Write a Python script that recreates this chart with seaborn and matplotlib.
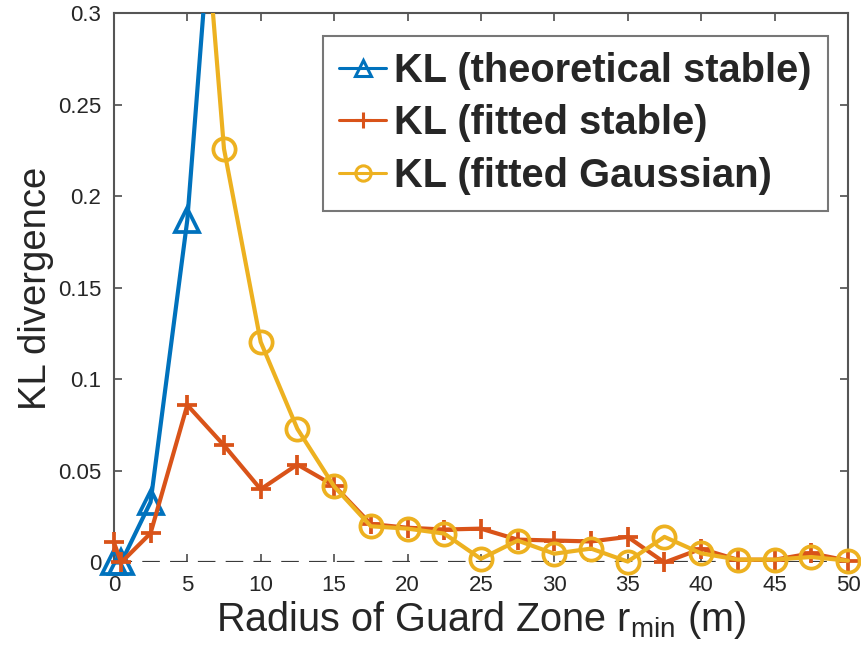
import numpy as np
import pandas as pd
import matplotlib
matplotlib.use("Agg")
import matplotlib.pyplot as plt
import matplotlib.patches as mpatches
import seaborn as sns

# ---- data ----
r_min = [0, 0.5, 2.5, 5, 7.5, 10, 12.5, 15, 17.5, 20, 22.5, 25, 27.5, 30,
         32.5, 35, 37.5, 40, 42.5, 45, 47.5, 50]
kl_theoretical_stable = [0.0, 0.0, 0.033, 0.187, 0.446] + [np.nan] * 17
kl_fitted_stable = [0.011, 0.0, 0.016, 0.086, 0.064, 0.040, 0.0535, 0.042, 0.021,
                    0.019, 0.018, 0.0185, 0.0125, 0.012, 0.0115, 0.014, 0.0,
                    0.0075, 0.0015, 0.0015, 0.005, 0.001]
kl_fitted_gaussian = [np.nan, np.nan, np.nan, 0.473, 0.226, 0.1205, 0.073, 0.0416,
                      0.0198, 0.0185, 0.0158, 0.002, 0.012, 0.0048, 0.0076, 0.0005,
                      0.014, 0.005, 0.0016, 0.0016, 0.003, 0.001]
x_ticks = [0, 5, 10, 15, 20, 25, 30, 35, 40, 45, 50]
y_ticks = [0, 0.05, 0.1, 0.15, 0.2, 0.25, 0.3]
y_ticklabels = ["0", "0.05", "0.1", "0.15", "0.2", "0.25", "0.3"]
labels = ["KL (theoretical stable)", "KL (fitted stable)", "KL (fitted Gaussian)"]
colors = ["#0072BD", "#D95319", "#EDB120"]
markers = ["^", "+", "o"]

sns.set_theme(style="white")
plt.rcParams["font.family"] = ["Liberation Sans", "DejaVu Sans"]
plt.rcParams["mathtext.fontset"] = "custom"
plt.rcParams["mathtext.rm"] = "Liberation Sans"

fig = plt.figure(figsize=(8.62, 6.71), dpi=100)
ax = fig.add_axes([0.1321, 0.1617, 0.8516, 0.8185])

ax.axhline(0, color="#3a3a3a", lw=2.3, ls=(0, (5.5, 3.2)), zorder=1)

series = [kl_theoretical_stable, kl_fitted_stable, kl_fitted_gaussian]
msizes = [17, 15, 16]
for ys, lab, c, m, ms in zip(series, labels, colors, markers, msizes):
    df = pd.DataFrame({"r": r_min, "kl": ys}).dropna()
    sns.lineplot(data=df, x="r", y="kl", ax=ax, color=c, marker=m,
                 markersize=ms, markerfacecolor="none", markeredgecolor=c,
                 markeredgewidth=2.7, linewidth=3.0, label=lab, zorder=3)

clip = mpatches.Rectangle((-0.05, -0.1), 1.1, 1.1, transform=ax.transAxes,
                          fill=False, visible=False)
ax.add_patch(clip)
for ln in ax.lines[1:]:
    ln.set_clip_path(clip)

ax.set_xlim(0, 50)
ax.set_ylim(0, 0.3)
ax.set_xticks(x_ticks)
ax.set_yticks(y_ticks)
ax.set_yticklabels(y_ticklabels)
ax.tick_params(axis="both", direction="in", length=6, width=1.2, color="#4d4d4d",
               labelsize=16, labelcolor="#262626", top=True, right=True,
               bottom=True, left=True)
ax.tick_params(axis="x", pad=9)
ax.tick_params(axis="y", pad=9)
for s in ["left", "right", "top"]:
    ax.spines[s].set_color("#555555")
    ax.spines[s].set_linewidth(1.5)
ax.spines["bottom"].set_visible(False)

ax.set_xlabel(r"Radius of Guard Zone r$_{\mathregular{min}}$ (m)", fontsize=28.5,
              color="#262626", labelpad=2)
ax.set_ylabel("KL divergence", fontsize=27.5, color="#262626", labelpad=3)

leg = ax.legend(loc="upper right", bbox_to_anchor=(0.9727, 0.9587),
                borderaxespad=0, prop={"weight": "bold", "size": 28.7},
                handlelength=1.2, handletextpad=0.2, borderpad=0.4,
                labelspacing=0.36, frameon=True, fancybox=False)
leg.get_frame().set_edgecolor("#555555")
leg.get_frame().set_linewidth(1.5)
for h in leg.get_lines():
    h.set_markersize(11)
    h.set_linewidth(2.2)
    h.set_markeredgewidth(2.2)

fig.savefig("out.png", dpi=100)
